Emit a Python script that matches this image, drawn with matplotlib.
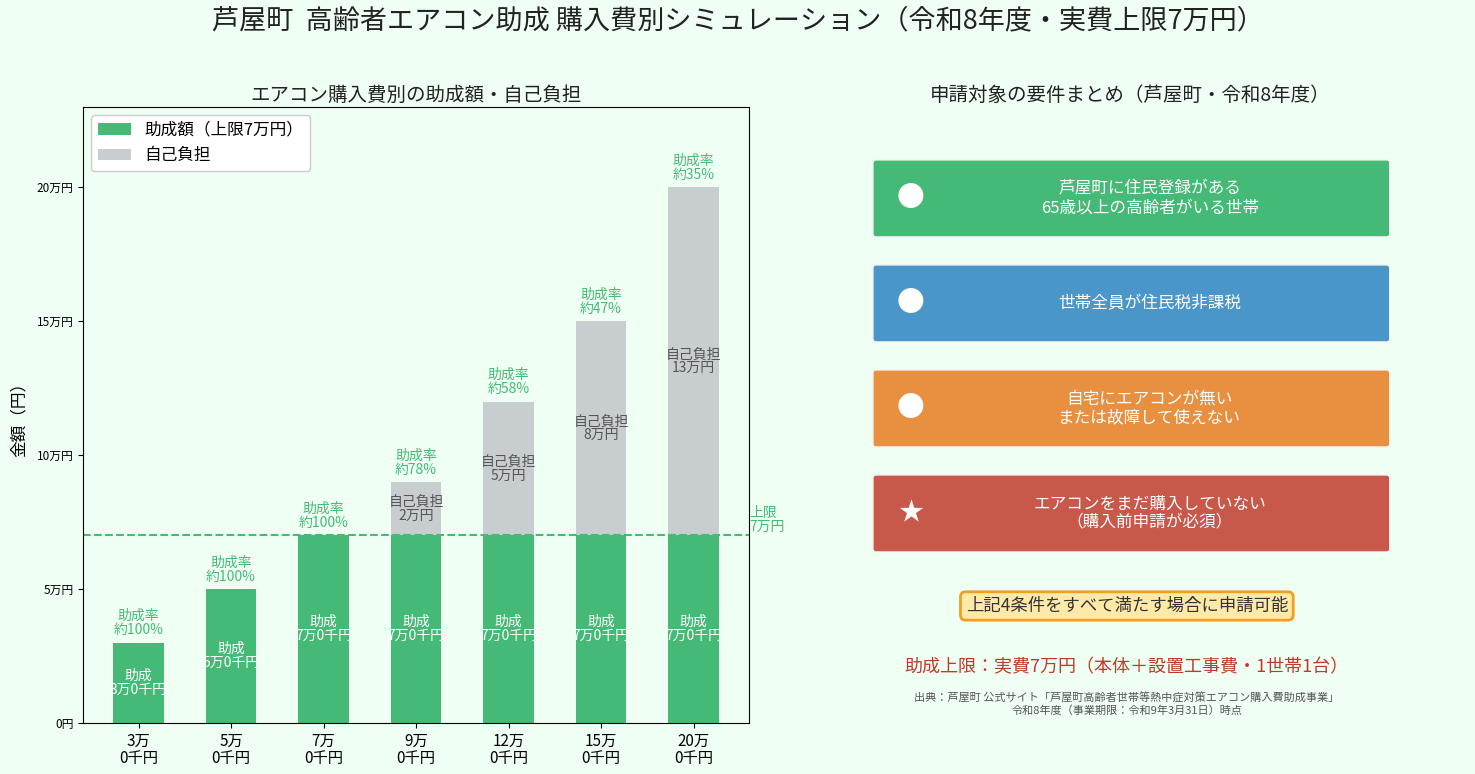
import matplotlib
matplotlib.use("Agg")
import matplotlib.pyplot as plt
from matplotlib.patches import FancyBboxPatch
import numpy as np

plt.rcParams["font.family"] = ["Noto Sans CJK JP", "DejaVu Sans"]

# data (yen)
costs = [30000, 50000, 70000, 90000, 120000, 150000, 200000]
cap = 70000
tick_labels = ["3万\n0千円", "5万\n0千円", "7万\n0千円", "9万\n0千円",
               "12万\n0千円", "15万\n0千円", "20万\n0千円"]
subsidy = [min(c, cap) for c in costs]
self_pay = [c - s for c, s in zip(costs, subsidy)]

req_texts = ["芦屋町に住民登録がある\n65歳以上の高齢者がいる世帯",
             "世帯全員が住民税非課税",
             "自宅にエアコンが無い\nまたは故障して使えない",
             "エアコンをまだ購入していない\n（購入前申請が必須）"]
req_marks = ["●", "●", "●", "★"]
req_colors = ["#45BA77", "#4A96C8", "#E89040", "#C8584A"]

GREEN = "#45BA77"
GRAY = "#C8CDD0"
BG = "#F0FFF3"

fig = plt.figure(figsize=(14.75, 7.74), dpi=100, facecolor=BG)
fig.suptitle("芦屋町  高齢者エアコン助成 購入費別シミュレーション（令和8年度・実費上限7万円）",
             fontsize=19.5, y=0.99, color="#222222")

# ── left: stacked bars ───────────────────────────────────────────────────────
ax = fig.add_axes([0.0563, 0.0659, 0.4515, 0.796])
ax.set_facecolor(BG)
x = np.arange(len(costs))
w = 0.55
ax.bar(x, subsidy, w, color=GREEN, label="助成額（上限7万円）")
ax.bar(x, self_pay, w, bottom=subsidy, color=GRAY, label="自己負担")

for i, (c, s, p) in enumerate(zip(costs, subsidy, self_pay)):
    man, sen = divmod(s, 10000)
    ax.text(i, s / 2, f"助成\n{man}万{sen // 1000}千円", ha="center", va="center",
            color="white", fontsize=10, linespacing=1.0)
    if p > 0:
        ax.text(i, s + p / 2, f"自己負担\n{p // 10000}万円", ha="center",
                va="center", color="#555555", fontsize=10, linespacing=1.0)
    ax.text(i, c + 2000, f"助成率\n約{round(s / c * 100)}%", ha="center",
            va="bottom", color=GREEN, fontsize=10, linespacing=1.0)

ax.axhline(cap, color=GREEN, ls="--", lw=1.5)
ax.text(6.6, cap + 5700, "上限\n7万円", ha="left", va="center", color=GREEN,
        fontsize=10, linespacing=1.0, clip_on=False)

ax.set_xlim(-0.6, 6.6)
ax.set_ylim(0, 230000)
ax.set_xticks(x)
ax.set_xticklabels(tick_labels, fontsize=11, linespacing=1.0)
yt = [0, 50000, 100000, 150000, 200000]
ax.set_yticks(yt)
ax.set_yticklabels(["0円", "5万円", "10万円", "15万円", "20万円"], fontsize=8.5)
ax.set_ylabel("金額（円）", fontsize=12, labelpad=6)
ax.set_title("エアコン購入費別の助成額・自己負担", fontsize=14, pad=4, color="#222222")
ax.legend(loc="upper left", fontsize=12, framealpha=1, facecolor="white")

# ── right: requirement cards ─────────────────────────────────────────────────
ax2 = fig.add_axes([0.583, 0.0659, 0.366, 0.796])
ax2.set_xlim(860, 1400)
ax2.set_ylim(723, 107)
ax2.axis("off")
ax2.set_title("申請対象の要件まとめ（芦屋町・令和8年度）", fontsize=14, pad=4,
              color="#222222")

for k, (txt, mk, col) in enumerate(zip(req_texts, req_marks, req_colors)):
    top = 160 + k * 105
    h = 77
    card = FancyBboxPatch((873, top), 517, h, boxstyle="round,pad=0,rounding_size=3",
                          facecolor=col, edgecolor="#F5F5F5", lw=1.0)
    ax2.add_patch(card)
    ax2.text(911, top + h / 2, mk, ha="center", va="center", color="white",
             fontsize=20 if mk == "●" else 18)
    ax2.text(1150, top + h / 2, txt, ha="center", va="center", color="white",
             fontsize=12, linespacing=1.1)

ax2.text(1127, 606, "上記4条件をすべて満たす場合に申請可能", ha="center", va="center",
         fontsize=12.5, color="#333333",
         bbox=dict(boxstyle="round,pad=0.3", facecolor="#FFE9A8",
                   edgecolor="#F0A020", lw=2))
ax2.text(1127, 667, "助成上限：実費7万円（本体＋設置工事費・1世帯1台）", ha="center",
         va="center", fontsize=13, color="#C0392B")
ax2.text(1127, 704, "出典：芦屋町 公式サイト「芦屋町高齢者世帯等熱中症対策エアコン購入費助成事業」\n"
         "令和8年度（事業期限：令和9年3月31日）時点", ha="center", va="center",
         fontsize=8, color="#555555", linespacing=1.2)

fig.savefig("out.png", dpi=100, facecolor=BG)
